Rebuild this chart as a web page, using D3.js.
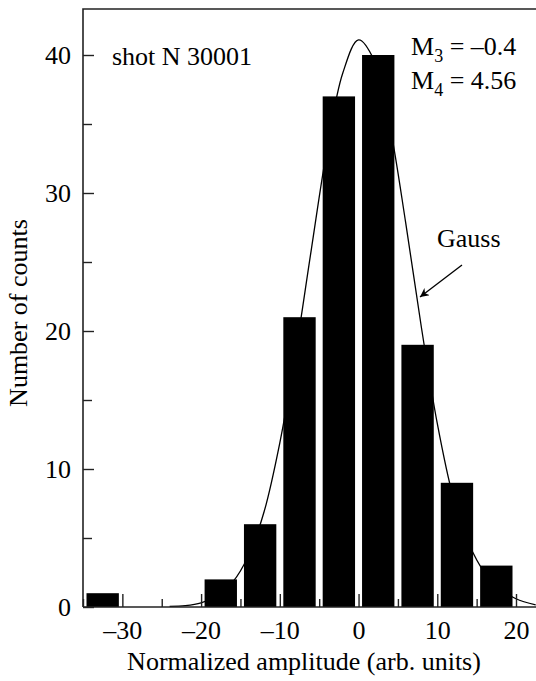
<!DOCTYPE html>
<html>
<head>
<meta charset="utf-8">
<script src="https://cdn.jsdelivr.net/npm/d3@7"></script>
<style>
  body { margin: 0; background: #fff; }
  svg { display: block; }
</style>
</head>
<body>
<script>
// histogram bins (centre of each 5-unit bin) and counts
const binCenters = [-32.5, -17.5, -12.5, -7.5, -2.5, 2.5, 7.5, 12.5, 17.5];
const counts     = [1, 2, 6, 21, 37, 40, 19, 9, 3];
const BIN = 5;

// Gauss curve
const gaussX = [-24, -22, -20, -18, -16, -14, -12, -10, -8, -6, -4, -2, 0, 2, 4, 6, 8, 10, 12, 14, 16, 18, 20, 22.5];
const gaussY = [0.05, 0.1, 0.3, 0.8, 1.8, 3.7, 6.9, 11.9, 18.4, 25.9, 33.2, 38.7, 41.1, 39.6, 34.8, 27.8, 20.2, 13.3, 8.0, 4.6, 2.5, 1.3, 0.6, 0.15];

// ticks
const xMajor = [-30, -20, -10, 0, 10, 20];
const xMinor = [-35, -25, -15, -5, 5, 15];
const yMajor = [0, 10, 20, 30, 40];
const yMinor = [5, 15, 25, 35];

const WIDTH = 536, HEIGHT = 681;
const LEFT = 83, TOP = 9, BOTTOM = 607;
const FONT = 26;
const SERIF = "Liberation Serif";
const INK = "#222";

const svg = d3.select("body").append("svg")
    .attr("width", WIDTH)
    .attr("height", HEIGHT)
    .attr("font-family", SERIF);

const x = d3.scaleLinear().domain([-35, 22.54]).range([LEFT, WIDTH]);
const y = d3.scaleLinear().domain([0, 40]).range([BOTTOM, 55]);

// gauss curve goes behind the bars
const line = d3.line()
    .x((d, i) => x(gaussX[i]))
    .y(d => y(d))
    .curve(d3.curveCatmullRom);

svg.append("path")
    .datum(gaussY)
    .attr("d", line)
    .attr("fill", "none")
    .attr("stroke", "#000")
    .attr("stroke-width", 1.3);

// bars
svg.selectAll(".bar")
    .data(binCenters)
    .join("rect")
    .attr("class", "bar")
    .attr("x", d => x(d - BIN / 2) + 3.5)
    .attr("width", d => x(d + BIN / 2) - x(d - BIN / 2) - 7)
    .attr("y", (d, i) => y(counts[i]))
    .attr("height", (d, i) => y(0) - y(counts[i]))
    .attr("fill", "#000");

// frame: left axis, top line
svg.append("path")
    .attr("d", `M${WIDTH},${TOP}H${LEFT}V${BOTTOM}`)
    .attr("fill", "none")
    .attr("stroke", INK)
    .attr("stroke-width", 1.6);

// x axis
const xAxis = d3.axisBottom(x).tickValues(xMajor).tickSize(-13).tickPadding(14)
    .tickFormat(d => d < 0 ? "\u2013" + Math.abs(d) : d);
const gx = svg.append("g")
    .attr("transform", `translate(0,${BOTTOM})`)
    .call(xAxis)
    .attr("font-family", SERIF)
    .attr("font-size", FONT);
gx.select(".domain").attr("d", `M${LEFT},0H${WIDTH}`).attr("stroke-width", 1.6).attr("stroke", INK);
gx.selectAll(".tick line").attr("stroke", INK).attr("stroke-width", 1.4);
gx.selectAll("text").attr("fill", "#000");

const gxm = svg.append("g")
    .attr("transform", `translate(0,${BOTTOM})`)
    .call(d3.axisBottom(x).tickValues(xMinor).tickSize(-8).tickFormat(""));
gxm.select(".domain").remove();
gxm.selectAll(".tick line").attr("stroke", INK).attr("stroke-width", 1.4);

// y axis
const gy = svg.append("g")
    .attr("transform", `translate(${LEFT},0)`)
    .call(d3.axisLeft(y).tickValues(yMajor).tickSize(-11).tickPadding(12))
    .attr("font-family", SERIF)
    .attr("font-size", FONT);
gy.select(".domain").remove();
gy.selectAll(".tick line").attr("stroke", INK).attr("stroke-width", 1.4);
gy.selectAll("text").attr("fill", "#000");

const gym = svg.append("g")
    .attr("transform", `translate(${LEFT},0)`)
    .call(d3.axisLeft(y).tickValues(yMinor).tickSize(-9).tickFormat(""));
gym.select(".domain").remove();
gym.selectAll(".tick line").attr("stroke", INK).attr("stroke-width", 1.4);

// axis titles
svg.append("text")
    .attr("x", 304).attr("y", 670)
    .attr("text-anchor", "middle")
    .attr("font-size", FONT)
    .text("Normalized amplitude (arb. units)");

svg.append("text")
    .attr("transform", "translate(27,313) rotate(-90)")
    .attr("text-anchor", "middle")
    .attr("font-size", FONT)
    .text("Number of counts");

// annotations
svg.append("text")
    .attr("x", 112).attr("y", 65)
    .attr("font-size", FONT)
    .text("shot N 30001");

const moments = [["3", "\u20130.4", 55], ["4", "4.56", 89]];
moments.forEach(([sub, val, by]) => {
    const t = svg.append("text").attr("x", 411).attr("y", by).attr("font-size", FONT);
    t.append("tspan").text("M");
    t.append("tspan").attr("font-size", 18).attr("dy", 7).text(sub);
    t.append("tspan").attr("dy", -7).text(" = " + val);
});

svg.append("text")
    .attr("x", 437).attr("y", 247)
    .attr("font-size", FONT)
    .text("Gauss");

// arrow to the curve
svg.append("defs").append("marker")
    .attr("id", "head")
    .attr("viewBox", "0 0 10 10")
    .attr("refX", 10).attr("refY", 5)
    .attr("markerWidth", 12).attr("markerHeight", 9)
    .attr("markerUnits", "userSpaceOnUse")
    .attr("orient", "auto")
    .append("path")
    .attr("d", "M0,0L10,5L0,10L3,5Z")
    .attr("fill", "#000");

svg.append("line")
    .attr("x1", 462).attr("y1", 265)
    .attr("x2", 420).attr("y2", 297)
    .attr("stroke", "#000")
    .attr("stroke-width", 1.3)
    .attr("marker-end", "url(#head)");
</script>
</body>
</html>
